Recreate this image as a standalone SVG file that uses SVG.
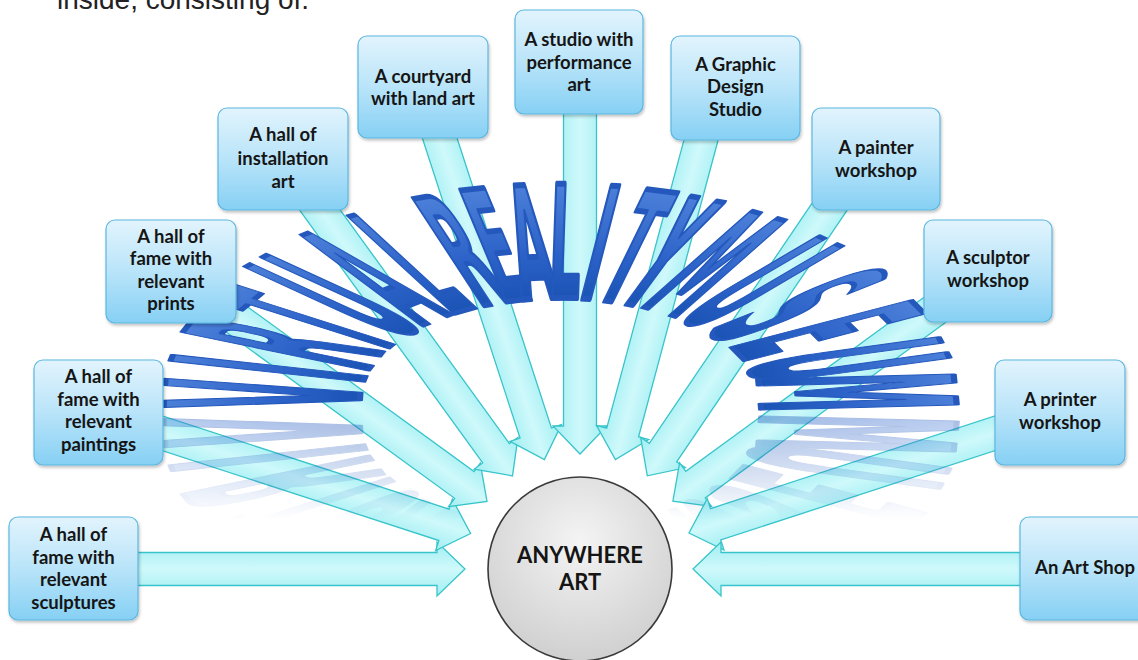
<svg xmlns="http://www.w3.org/2000/svg" xmlns:xlink="http://www.w3.org/1999/xlink" width="1138" height="660" viewBox="0 0 1138 660">
<defs>
<linearGradient id="boxg" x1="0" y1="0" x2="0" y2="1">
<stop offset="0" stop-color="#e2f4fd"/>
<stop offset="0.5" stop-color="#b9e4f9"/>
<stop offset="1" stop-color="#86d0f4"/>
</linearGradient>
<linearGradient id="arrg" x1="0" y1="0" x2="0" y2="1">
<stop offset="0" stop-color="#a0eef2"/>
<stop offset="0.5" stop-color="#cff9fb"/>
<stop offset="1" stop-color="#a0eef2"/>
</linearGradient>
<radialGradient id="circg" cx="0.5" cy="0.35" r="0.7">
<stop offset="0" stop-color="#f4f4f4"/>
<stop offset="1" stop-color="#cdcdcd"/>
</radialGradient>
<linearGradient id="wg" x1="0" y1="0" x2="0" y2="1">
<stop offset="0" stop-color="#5a8de0"/>
<stop offset="0.55" stop-color="#2c62c8"/>
<stop offset="1" stop-color="#0b48a4"/>
</linearGradient>
<linearGradient id="refg" gradientUnits="userSpaceOnUse" x1="0" y1="412" x2="0" y2="520">
<stop offset="0" stop-color="#fff" stop-opacity="0.42"/>
<stop offset="1" stop-color="#fff" stop-opacity="0"/>
</linearGradient>
<mask id="refmask" maskUnits="userSpaceOnUse" x="0" y="0" width="1138" height="660">
<rect x="0" y="412" width="1138" height="140" fill="url(#refg)"/>
</mask>
<filter id="sh" x="-10%" y="-10%" width="125%" height="130%">
<feDropShadow dx="1" dy="2" stdDeviation="1.5" flood-color="#000" flood-opacity="0.25"/>
</filter>
<style>
.box{fill:url(#boxg);stroke:#5bb7e0;stroke-width:1.2;filter:url(#sh)}
.bt{font-family:Lato,"Open Sans",sans-serif;font-weight:bold;font-size:18.5px;fill:#151515;text-anchor:middle}
.ar{fill:url(#arrg);stroke:#38c4ca;stroke-width:1.3}
.wl{font-family:"DejaVu Sans Condensed","DejaVu Sans",sans-serif;font-weight:bold;font-size:40px;text-anchor:middle;fill:url(#wg);stroke:#2458bc;stroke-width:4.5;stroke-linejoin:round;vector-effect:non-scaling-stroke}
.ct{font-family:Lato,"Open Sans",sans-serif;font-weight:bold;font-size:22px;fill:#151515;text-anchor:middle}
</style>
</defs>
<rect width="1138" height="660" fill="#fff"/>
<text x="57" y="9" font-family="Liberation Sans, Arial, sans-serif" font-size="28" fill="#222">inside, consisting of.</text>

<g id="connectors">
<path class="ar" transform="translate(465,569) rotate(0)" d="M-392,-16.5 L-28,-16.5 L-28,-27 L0,0 L-28,27 L-28,16.5 L-392,16.5 Z"/>
<path class="ar" transform="translate(470.6,533.5) rotate(18)" d="M-391,-16.5 L-28,-16.5 L-28,-27 L0,0 L-28,27 L-28,16.5 L-391,16.5 Z"/>
<path class="ar" transform="translate(487,501.4) rotate(36.03)" d="M-391,-16.5 L-28,-16.5 L-28,-27 L0,0 L-28,27 L-28,16.5 L-391,16.5 Z"/>
<path class="ar" transform="translate(512.5,475.9) rotate(54.08)" d="M-391,-16.5 L-28,-16.5 L-28,-27 L0,0 L-28,27 L-28,16.5 L-391,16.5 Z"/>
<path class="ar" transform="translate(544.4,459.6) rotate(71.96)" d="M-392,-16.5 L-28,-16.5 L-28,-27 L0,0 L-28,27 L-28,16.5 L-392,16.5 Z"/>
<path class="ar" transform="translate(580,454) rotate(90)" d="M-392,-16.5 L-28,-16.5 L-28,-27 L0,0 L-28,27 L-28,16.5 L-392,16.5 Z"/>
<path class="ar" transform="translate(615.4,459.6) rotate(105)" d="M-385,-16.5 L-28,-16.5 L-28,-27 L0,0 L-28,27 L-28,16.5 L-385,16.5 Z"/>
<path class="ar" transform="translate(647.3,475.8) rotate(124.12)" d="M-383,-16.5 L-28,-16.5 L-28,-27 L0,0 L-28,27 L-28,16.5 L-383,16.5 Z"/>
<path class="ar" transform="translate(672.9,501.2) rotate(143.85)" d="M-390,-16.5 L-28,-16.5 L-28,-27 L0,0 L-28,27 L-28,16.5 L-390,16.5 Z"/>
<path class="ar" transform="translate(689,533) rotate(161.94)" d="M-390,-16.5 L-28,-16.5 L-28,-27 L0,0 L-28,27 L-28,16.5 L-390,16.5 Z"/>
<path class="ar" transform="translate(693,569) rotate(180)" d="M-392,-16.5 L-28,-16.5 L-28,-27 L0,0 L-28,27 L-28,16.5 L-392,16.5 Z"/>
</g>

<g id="wordart-reflection" mask="url(#refmask)">
<use xlink:href="#wordart" href="#wordart" transform="matrix(1,0,0,-1,0,826)"/>
</g>

<g id="wordart" transform="translate(560,400) scale(2,1.02)">
<text class="wl" transform="rotate(-88) translate(0,-100) scale(1.04,3.356)">V</text>
<text class="wl" transform="rotate(-78) translate(0,-100) scale(0.984,3.377)">I</text>
<text class="wl" transform="rotate(-68) translate(0,-100) scale(0.9,3.423)">R</text>
<text class="wl" transform="rotate(-58) translate(0,-100) scale(0.85,3.49)">T</text>
<text class="wl" transform="rotate(-48) translate(0,-100) scale(0.78,3.57)">U</text>
<text class="wl" transform="rotate(-38) translate(0,-100) scale(0.72,3.655)">A</text>
<text class="wl" transform="rotate(-29) translate(0,-100) scale(0.7,3.72)">L</text>
<text class="wl" transform="rotate(-18.5) translate(0,-100) scale(0.7,3.788)">R</text>
<text class="wl" transform="rotate(-12) translate(0,-100) scale(0.7,3.815)">E</text>
<text class="wl" transform="rotate(-5.5) translate(0,-100) scale(0.69,3.83)">A</text>
<text class="wl" transform="rotate(1) translate(0,-100) scale(0.69,3.836)">L</text>
<text class="wl" transform="rotate(7.5) translate(0,-100) scale(0.69,3.83)">I</text>
<text class="wl" transform="rotate(14) translate(0,-100) scale(0.7,3.81)">T</text>
<text class="wl" transform="rotate(20.5) translate(0,-100) scale(0.71,3.777)">Y</text>
<text class="wl" transform="rotate(30) translate(0,-100) scale(0.7,3.716)">M</text>
<text class="wl" transform="rotate(41) translate(0,-100) scale(0.74,3.63)">U</text>
<text class="wl" transform="rotate(52) translate(0,-100) scale(0.8,3.538)">S</text>
<text class="wl" transform="rotate(63) translate(0,-100) scale(0.86,3.455)">E</text>
<text class="wl" transform="rotate(75) translate(0,-100) scale(0.96,3.388)">U</text>
<text class="wl" transform="rotate(87) translate(0,-100) scale(1.04,3.356)">M</text>
</g>

<g id="n-sculptures"><rect class="box" x="9" y="517" width="129" height="103" rx="9"/>
<text class="bt" x="73.5" y="541">A hall of</text><text class="bt" x="73.5" y="564">fame with</text><text class="bt" x="73.5" y="586">relevant</text><text class="bt" x="73.5" y="609">sculptures</text></g>
<g id="n-paintings"><rect class="box" x="34" y="360" width="129" height="105" rx="9"/>
<text class="bt" x="98.5" y="383">A hall of</text><text class="bt" x="98.5" y="406">fame with</text><text class="bt" x="98.5" y="428">relevant</text><text class="bt" x="98.5" y="451">paintings</text></g>
<g id="n-prints"><rect class="box" x="106" y="220" width="130" height="103" rx="9"/>
<text class="bt" x="171" y="243">A hall of</text><text class="bt" x="171" y="265">fame with</text><text class="bt" x="171" y="288">relevant</text><text class="bt" x="171" y="310">prints</text></g>
<g id="n-installation"><rect class="box" x="218" y="108" width="130" height="102" rx="9"/>
<text class="bt" x="283" y="141">A hall of</text><text class="bt" x="283" y="165">installation</text><text class="bt" x="283" y="188">art</text></g>
<g id="n-courtyard"><rect class="box" x="358" y="36" width="130" height="102" rx="9"/>
<text class="bt" x="423" y="83">A courtyard</text><text class="bt" x="423" y="105">with land art</text></g>
<g id="n-studio"><rect class="box" x="515" y="10" width="128" height="104" rx="9"/>
<text class="bt" x="579" y="46">A studio with</text><text class="bt" x="579" y="69">performance</text><text class="bt" x="579" y="91">art</text></g>
<g id="n-graphic"><rect class="box" x="671" y="36" width="129" height="104" rx="9"/>
<text class="bt" x="735.5" y="71">A Graphic</text><text class="bt" x="735.5" y="93">Design</text><text class="bt" x="735.5" y="116">Studio</text></g>
<g id="n-painter"><rect class="box" x="812" y="108" width="128" height="102" rx="9"/>
<text class="bt" x="876" y="154">A painter</text><text class="bt" x="876" y="177">workshop</text></g>
<g id="n-sculptor"><rect class="box" x="924" y="220" width="128" height="102" rx="9"/>
<text class="bt" x="988" y="264">A sculptor</text><text class="bt" x="988" y="287">workshop</text></g>
<g id="n-printer"><rect class="box" x="995" y="360" width="130" height="105" rx="9"/>
<text class="bt" x="1060" y="406">A printer</text><text class="bt" x="1060" y="429">workshop</text></g>
<g id="n-artshop"><rect class="box" x="1020" y="517" width="130" height="103" rx="9"/>
<text class="bt" x="1085" y="574">An Art Shop</text></g>

<g id="n-center"><circle cx="580" cy="569" r="92" fill="url(#circg)" stroke="#3a3a3a" stroke-width="1.6"/>
<text class="ct" x="580" y="563">ANYWHERE</text><text class="ct" x="580" y="590">ART</text></g>
</svg>
